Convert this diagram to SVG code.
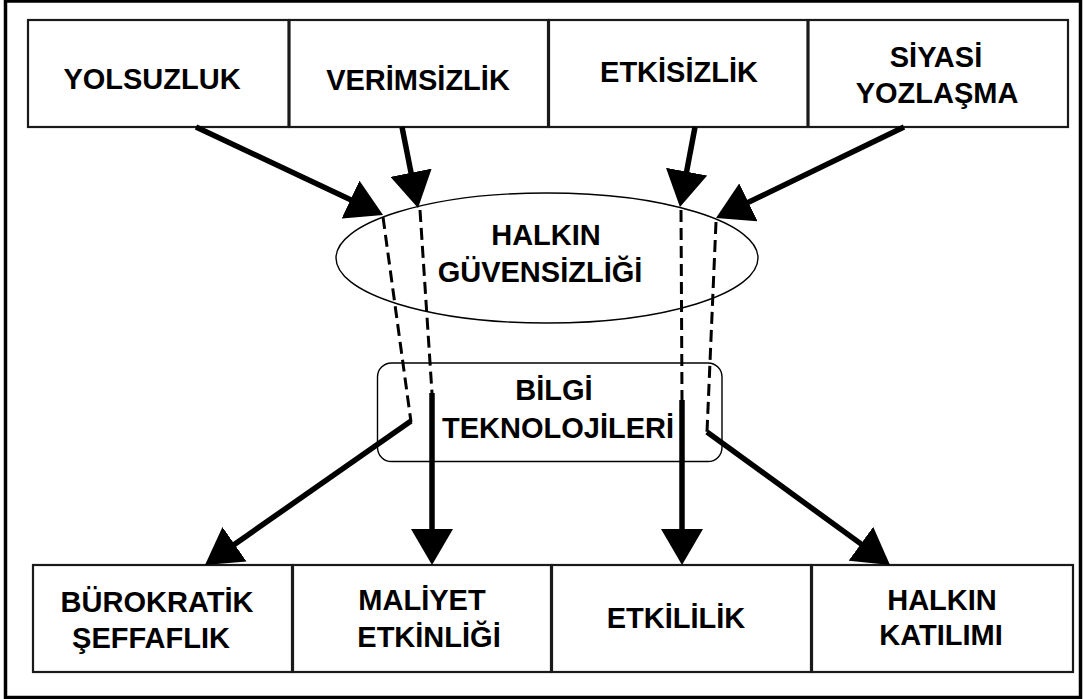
<svg xmlns="http://www.w3.org/2000/svg" width="1083" height="699" viewBox="0 0 1083 699">
  <style>
    .frame { fill: none; stroke: #000; stroke-width: 3.5; }
    .box { fill: #fff; stroke: #1a1a1a; stroke-width: 2.2; }
    .hub { fill: none; stroke: #000; stroke-width: 1.4; }
    .lbl { font-family: "Liberation Sans", Arial, sans-serif; font-weight: bold; font-size: 29px; fill: #000; text-anchor: middle; }
    .arrow { fill: none; stroke: #000; stroke-width: 5.5; marker-end: url(#head); }
    .dash { fill: none; stroke: #000; stroke-width: 3; stroke-dasharray: 12 6; }
  </style>
  <defs>
    <marker id="head" markerUnits="userSpaceOnUse" markerWidth="36" markerHeight="42" refX="26" refY="21" orient="auto">
      <path d="M0,0 L36,21 L0,42 Z" fill="#000"/>
    </marker>
  </defs>

  <rect width="1083" height="699" fill="#fff"/>
  <rect class="frame" x="5.5" y="1" width="1075" height="696.5"/>

  <!-- causes (top row) -->
  <g id="yolsuzluk">
    <rect class="box" x="28" y="20" width="260.5" height="107"/>
    <text class="lbl" x="152" y="89">YOLSUZLUK</text>
  </g>
  <g id="verimsizlik">
    <rect class="box" x="289.5" y="20" width="258.5" height="107"/>
    <text class="lbl" x="418" y="90">VERİMSİZLİK</text>
  </g>
  <g id="etkisizlik">
    <rect class="box" x="549" y="20" width="258.5" height="107"/>
    <text class="lbl" x="679" y="82">ETKİSİZLİK</text>
  </g>
  <g id="siyasi-yozlasma">
    <rect class="box" x="808.5" y="20" width="259.5" height="107"/>
    <text class="lbl" x="936" y="67">SİYASİ</text>
    <text class="lbl" x="937" y="103">YOZLAŞMA</text>
  </g>

  <!-- central hubs -->
  <g id="halkin-guvensizligi">
    <ellipse class="hub" cx="547" cy="258" rx="211" ry="65"/>
    <text class="lbl" x="546" y="245">HALKIN</text>
    <text class="lbl" x="540" y="282">GÜVENSİZLİĞİ</text>
  </g>
  <g id="bilgi-teknolojileri">
    <rect class="hub" x="377.5" y="363" width="344.5" height="98.5" rx="14" ry="14"/>
    <text class="lbl" x="554" y="400">BİLGİ</text>
    <text class="lbl" x="558" y="438">TEKNOLOJİLERİ</text>
  </g>

  <!-- outcomes (bottom row) -->
  <g id="burokratik-seffaflik">
    <rect class="box" x="33" y="565" width="259" height="107"/>
    <text class="lbl" x="157" y="612">BÜROKRATİK</text>
    <text class="lbl" x="151" y="648">ŞEFFAFLIK</text>
  </g>
  <g id="maliyet-etkinligi">
    <rect class="box" x="293" y="565" width="258" height="107"/>
    <text class="lbl" x="422" y="610">MALİYET</text>
    <text class="lbl" x="429" y="647">ETKİNLİĞİ</text>
  </g>
  <g id="etkililik">
    <rect class="box" x="552" y="565" width="259" height="107"/>
    <text class="lbl" x="676" y="628">ETKİLİLİK</text>
  </g>
  <g id="halkin-katilimi">
    <rect class="box" x="812" y="565" width="261" height="107"/>
    <text class="lbl" x="942" y="610">HALKIN</text>
    <text class="lbl" x="941" y="645">KATILIMI</text>
  </g>

  <!-- connectors -->
  <g id="connectors">
    <line class="arrow" x1="196" y1="127" x2="374" y2="210.7"/>
    <line class="arrow" x1="402" y1="127" x2="416.1" y2="198.2"/>
    <line class="arrow" x1="695" y1="127" x2="681.8" y2="197.2"/>
    <line class="arrow" x1="904" y1="127" x2="725" y2="213.6"/>

    <line class="dash" x1="383" y1="217" x2="411" y2="422"/>
    <line class="dash" x1="420" y1="210" x2="432" y2="393"/>
    <line class="dash" x1="681" y1="210" x2="682" y2="400"/>
    <line class="dash" x1="716" y1="222" x2="707" y2="432"/>

    <line class="arrow" x1="411" y1="421" x2="213.2" y2="559.2"/>
    <line class="arrow" x1="432" y1="393" x2="432" y2="555"/>
    <line class="arrow" x1="682" y1="400" x2="682" y2="555"/>
    <line class="arrow" x1="707" y1="432" x2="881.9" y2="559.1"/>
  </g>
</svg>
